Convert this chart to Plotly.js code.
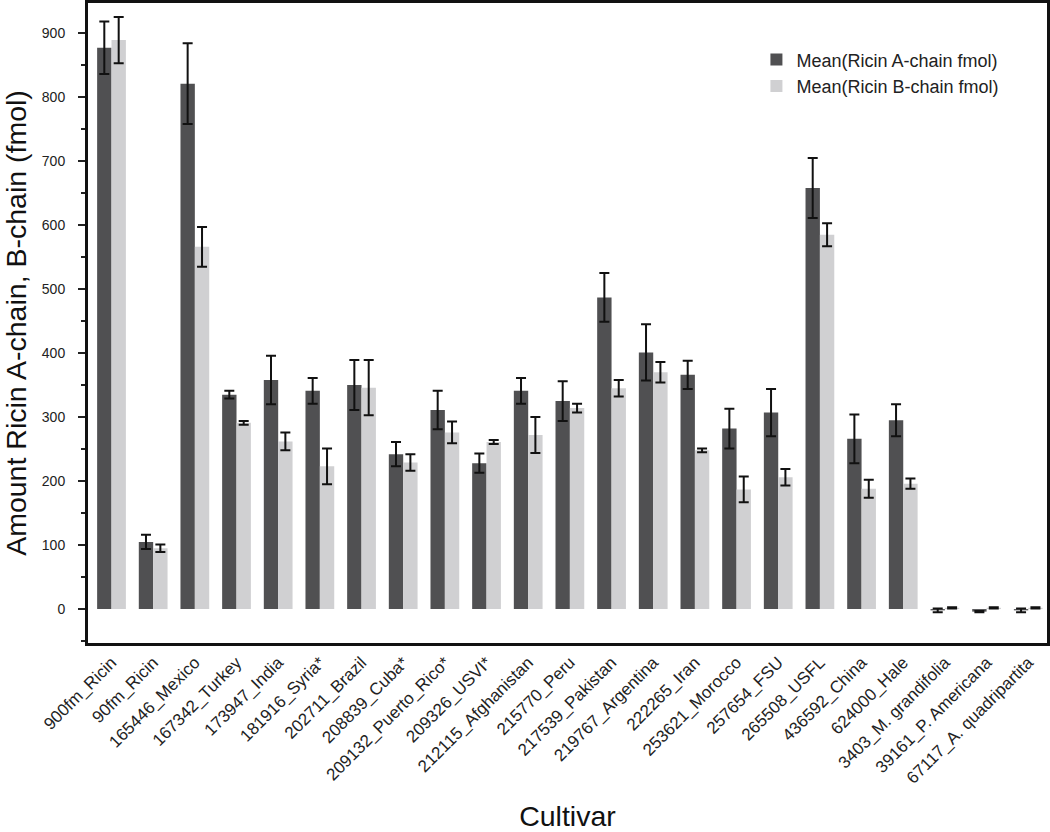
<!DOCTYPE html>
<html>
<head>
<meta charset="utf-8">
<script src="https://cdn.plot.ly/plotly-3.0.1.min.js"></script>
<style>html,body{margin:0;padding:0;background:#fff;}#chart{width:1050px;height:832px;}</style>
</head>
<body>
<div id="chart"></div>
<script>
const categories = ["900fm_Ricin","90fm_Ricin","165446_Mexico","167342_Turkey","173947_India","181916_Syria*","202711_Brazil","208839_Cuba*","209132_Puerto_Rico*","209326_USVI*","212115_Afghanistan","215770_Peru","217539_Pakistan","219767_Argentina","222265_Iran","253621_Morocco","257654_FSU","265508_USFL","436592_China","624000_Hale","3403_M. grandifolia","39161_P. Americana","67117_A. quadripartita"];
const chainA = [877,105,821,335,358,341,350,242,311,228,341,325,487,401,366,282,307,658,266,295,-2,-4,-2];
const chainAerr = [41,11,63,6,38,20,39,19,30,15,20,31,38,44,22,31,37,47,38,25,3,1,3];
const chainB = [889,95,566,291,262,223,346,229,276,261,272,314,345,370,248,187,206,585,188,196,2,2,2];
const chainBerr = [36,6,31,3,14,28,43,13,17,3,28,7,13,16,3,20,13,18,14,8,1,1,1];
const yTicks = [0,100,200,300,400,500,600,700,800,900];

const traceA = {
  type: 'bar', name: 'Mean(Ricin A-chain fmol)', x: categories, y: chainA,
  marker: {color: '#505052', line: {width: 0}},
  error_y: {type: 'data', array: chainAerr, visible: true, color: '#111', thickness: 2, width: 5}
};
const traceB = {
  type: 'bar', name: 'Mean(Ricin B-chain fmol)', x: categories, y: chainB,
  marker: {color: '#d0d0d2', line: {width: 0}},
  error_y: {type: 'data', array: chainBerr, visible: true, color: '#111', thickness: 2, width: 5}
};

const layout = {
  width: 1050, height: 832,
  margin: {l: 88, r: 3, t: 3, b: 189},
  paper_bgcolor: '#fff', plot_bgcolor: '#fff',
  barmode: 'group', bargap: 0.31, bargroupgap: 0,
  font: {family: 'Liberation Sans, Arial, sans-serif', color: '#222'},
  showlegend: true,
  legend: {x: 0.697, y: 0.94, xanchor: 'left', yanchor: 'top', bgcolor: 'rgba(0,0,0,0)', font: {size: 18, color: '#222'}, tracegroupgap: 2},
  xaxis: {
    type: 'category', range: [-0.564, 22.45],
    tickangle: -45, tickfont: {size: 17, color: '#222'},
    showline: true, linecolor: '#111', linewidth: 3, mirror: true,
    ticks: '', showgrid: false, zeroline: false,
    title: {text: 'Cultivar', font: {size: 28.5, color: '#111'}, standoff: 25}
  },
  yaxis: {
    range: [-53, 947], tickvals: yTicks, ticktext: yTicks.map(String),
    tickfont: {size: 14, color: '#222'}, ticklabelstandoff: 10,
    ticks: 'outside', ticklen: 7, tickwidth: 2, tickcolor: '#222',
    minor: {dtick: 50, ticks: 'outside', ticklen: 4, tickwidth: 1.5, tickcolor: '#222', showgrid: false},
    showline: true, linecolor: '#111', linewidth: 3, mirror: true,
    showgrid: false, zeroline: false,
    title: {text: 'Amount Ricin A-chain, B-chain (fmol)', font: {size: 28.5, color: '#111'}, standoff: 15}
  }
};

Plotly.newPlot('chart', [traceA, traceB], layout, {displayModeBar: false, staticPlot: true});
</script>
</body>
</html>
